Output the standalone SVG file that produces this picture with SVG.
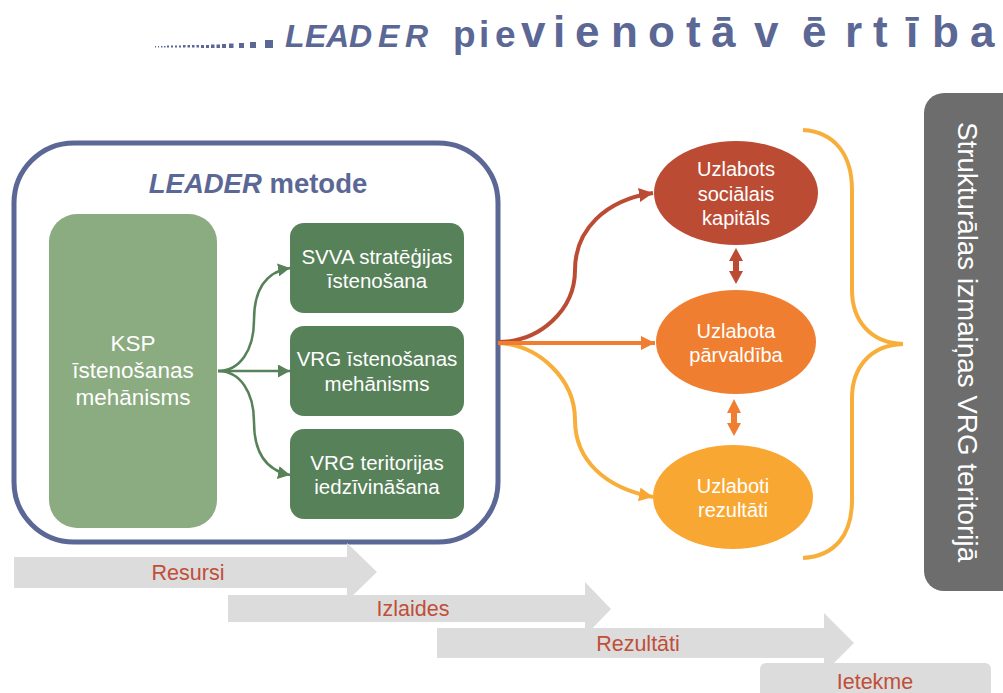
<svg xmlns="http://www.w3.org/2000/svg" width="1003" height="693" viewBox="0 0 1003 693">
<style>
text{font-family:"Liberation Sans",Arial,sans-serif}
.w{fill:#fff;font-size:20.500px;text-anchor:middle}
.e{fill:#fff;font-size:20px;text-anchor:middle}
.k{fill:#fff;font-size:22.500px;text-anchor:middle}
.b{fill:#578159}
.g{fill:#dcdcdc}
.r{fill:#c04f38;font-size:21.500px;text-anchor:middle}
.t{fill:#5b6795;font-weight:700}
.c{fill:none;stroke-linecap:butt}
</style>
<defs>
<marker id="ag" markerUnits="userSpaceOnUse" markerWidth="13" markerHeight="13" refX="12" refY="6.500" orient="auto"><path d="M0 0L12 6.500L0 13z" fill="#578159"/></marker>
<marker id="ar" markerUnits="userSpaceOnUse" markerWidth="14" markerHeight="14" refX="14" refY="7" orient="auto"><path d="M0 0L14 7L0 14z" fill="#bc4b34"/></marker>
<marker id="ao" markerUnits="userSpaceOnUse" markerWidth="14" markerHeight="14" refX="14" refY="7" orient="auto"><path d="M0 0L14 7L0 14z" fill="#f07e30"/></marker>
<marker id="ay" markerUnits="userSpaceOnUse" markerWidth="14" markerHeight="14" refX="14" refY="7" orient="auto"><path d="M0 0L14 7L0 14z" fill="#f8a832"/></marker>
</defs>
<rect width="1003" height="693" fill="#fff"/>
<g id="title">
<path fill="#5b6795" d="M155 46h1v1.500h-1zM158 46h1v1.500h-1zM161 46h1.500v1.500h-1.500zM164 46h1.500v1.500h-1.500zM167 45.500h2v2h-2zM171 45.500h2v2h-2zM175 45.500h2v2h-2zM179 45.500h2v2h-2zM183 45h2.500v2.500h-2.500zM187.500 45h2.500v2.500h-2.500zM192 45h2.500v2.500h-2.500zM196.500 45h2.500v2.500h-2.500zM201 45h3v3h-3zM206 45h3v3h-3zM211 44.500h3.500v3.500h-3.500zM216.500 44.500h3.500v3.500h-3.500zM222 44h4v4h-4zM229 43.500h4.500v4.500h-4.500zM239 43h5v5h-5zM250 42h6v6h-6zM265 40h8v8h-8z"/>
<text class="t" y="47" font-style="italic" font-size="32" x="285 305 326 349 378 405">LEADER</text>
<text class="t" y="47" font-size="37" x="453 479 495">pie</text>
<text class="t" y="47" font-size="44" x="521 553 575 611 648 686 711 742 754 802 845 873 906 932 970">vienotā vērtība</text>
</g>
<g id="leader-frame"><rect x="14" y="143" width="484" height="399" rx="60" fill="#fff" stroke="#5b6795" stroke-width="5"/>
<text x="258" y="193" text-anchor="middle" fill="#5b6795" font-size="27.500" font-weight="700"><tspan font-style="italic">LEADER</tspan> metode</text></g>
<g id="ksp"><rect x="49" y="214" width="168" height="314" rx="28" fill="#8bab80"/>
<text class="k" x="133" y="351">KSP</text><text class="k" x="133" y="378">īstenošanas</text><text class="k" x="133" y="405">mehānisms</text></g>
<g id="n1"><rect class="b" x="290" y="223" width="174" height="90" rx="14"/><text class="w" x="377" y="264">SVVA stratēģijas</text><text class="w" x="377" y="288">īstenošana</text></g>
<g id="n2"><rect class="b" x="290" y="326" width="174" height="90" rx="14"/><text class="w" x="377" y="366">VRG īstenošanas</text><text class="w" x="377" y="391">mehānisms</text></g>
<g id="n3"><rect class="b" x="290" y="429" width="174" height="90" rx="14"/><text class="w" x="377" y="470">VRG teritorijas</text><text class="w" x="377" y="494">iedzīvināšana</text></g>
<g id="e1"><ellipse cx="736" cy="193" rx="82" ry="52" fill="#bc4b34"/><text class="e" x="736" y="176">Uzlabots</text><text class="e" x="736" y="201">sociālais</text><text class="e" x="736" y="225">kapitāls</text></g>
<g id="e2"><ellipse cx="736" cy="342" rx="80" ry="52" fill="#f07e30"/><text class="e" x="736" y="338">Uzlabota</text><text class="e" x="736" y="362">pārvaldība</text></g>
<g id="e3"><ellipse cx="733" cy="497" rx="80" ry="52" fill="#f8a832"/><text class="e" x="733" y="493">Uzlaboti</text><text class="e" x="733" y="517">rezultāti</text></g>
<g id="connectors">
<g class="c" stroke="#578159" stroke-width="2.500">
<path d="M218 371C240 371 254 350 254 320C254 290 265 272 290 268" marker-end="url(#ag)"/>
<path d="M218 371H290" marker-end="url(#ag)"/>
<path d="M218 371C240 371 254 392 254 422C254 452 265 470 290 475" marker-end="url(#ag)"/>
</g>
<path class="c" stroke="#f8ae3a" stroke-width="4" d="M498 343C540 345 575 380 575 420C575 460 605 488 653 497" marker-end="url(#ay)"/>
<path class="c" stroke="#bc4b34" stroke-width="4" d="M498 342C540 342 575 310 575 270C575 230 605 200 653 193" marker-end="url(#ar)"/>
<path class="c" stroke="#f07e30" stroke-width="4" d="M498 343H655" marker-end="url(#ao)"/>
<path d="M736 248L743 261H739V271H743L736 284L729 271H733V261H729z" fill="#bc4b34"/>
<path d="M734 399L741 413H737V423H741L734 436L727 423H731V413H727z" fill="#f07e30"/>
</g>
<g id="brace"><path class="c" stroke="#f8ae3a" stroke-width="4" d="M803 130C835 132 852 155 852 190V290C852 320 870 343 903 344C870 345 852 368 852 398V500C852 535 835 556 803 558"/></g>
<g id="impact-box"><rect x="924" y="93" width="100" height="498" rx="20" fill="#6d6d6d"/>
<text transform="translate(958 342) rotate(90)" text-anchor="middle" fill="#fff" font-size="27.800">Strukturālas izmaiņas VRG teritorijā</text></g>
<g id="a1"><path class="g" d="M14 557H347V543L377 572L347 601V588H14z"/><text class="r" x="188" y="580">Resursi</text></g>
<g id="a2"><path class="g" d="M228 595H585V582L611 609L585 636V622H228z"/><text class="r" x="413" y="616">Izlaides</text></g>
<g id="a3"><path class="g" d="M437 628H824V613L854 643L824 673V658H437z"/><text class="r" x="638" y="651">Rezultāti</text></g>
<g id="a4"><rect class="g" x="760" y="663" width="231" height="50" rx="6"/><text class="r" x="875" y="689">Ietekme</text></g>
</svg>
